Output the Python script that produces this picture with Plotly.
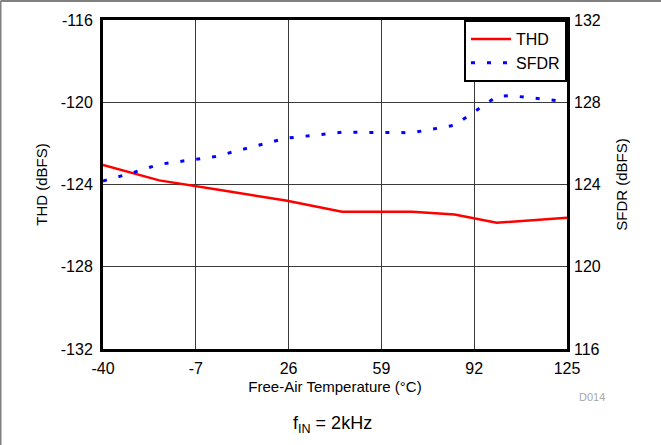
import plotly.graph_objects as go

# Free-air temperature (°C)
thd_temp = [-40, -20, 0, 25, 45, 70, 85, 100, 125]
thd_db = [-123.05, -123.8, -124.23, -124.78, -125.33, -125.33, -125.46, -125.86, -125.62]

sfdr_temp = [-40, -30, -20, -10, 0, 10, 25, 45, 70, 85, 100, 105, 125]
sfdr_db = [124.17, 124.55, 124.98, 125.17, 125.36, 125.72, 126.25, 126.54, 126.52, 126.88, 128.28, 128.32, 128.03]

x_ticks = [-40, -7, 26, 59, 92, 125]
thd_ticks = [-132, -128, -124, -120, -116]
sfdr_ticks = [116, 120, 124, 128, 132]

FONT = "Liberation Sans, Arial, sans-serif"

fig = go.Figure()
fig.add_trace(go.Scatter(
    x=thd_temp, y=thd_db, name="THD", mode="lines",
    line=dict(color="#ff0000", width=2.5), yaxis="y",
))
fig.add_trace(go.Scatter(
    x=sfdr_temp, y=sfdr_db, name="SFDR", mode="lines",
    line=dict(color="#0000ff", width=3, dash="4, 12"), yaxis="y2",
))

grid = dict(showgrid=True, gridcolor="#3a3a3a", gridwidth=1, zeroline=False)
fig.update_layout(
    width=661, height=445,
    margin=dict(l=103, r=94, t=20, b=96),
    paper_bgcolor="white", plot_bgcolor="white",
    font=dict(family=FONT, size=16, color="black"),
    showlegend=True,
    legend=dict(
        x=1, y=1, xanchor="right", yanchor="top",
        bgcolor="white", bordercolor="black", borderwidth=2,
        font=dict(size=16), tracegroupgap=0, itemwidth=40,
    ),
    xaxis=dict(
        range=[-40, 125], tickvals=x_ticks, ticktext=[str(v) for v in x_ticks],
        showline=True, linecolor="black", linewidth=3, mirror=True,
        ticks="", ticklen=0, ticklabelstandoff=3,
        title=dict(text="Free-Air Temperature (°C)", font=dict(size=15), standoff=6),
        **grid,
    ),
    yaxis=dict(
        range=[-132, -116], tickvals=thd_ticks, ticktext=[str(v) for v in thd_ticks],
        showline=True, linecolor="black", linewidth=3, mirror=True,
        ticks="", ticklabelstandoff=4,
        title=dict(text="THD (dBFS)", font=dict(size=15), standoff=10),
        **grid,
    ),
    yaxis2=dict(
        range=[116, 132], tickvals=sfdr_ticks, ticktext=[str(v) for v in sfdr_ticks],
        overlaying="y", side="right", showgrid=False, zeroline=False,
        showline=False, ticks="", ticklabelstandoff=6,
        title=dict(text="SFDR (dBFS)", font=dict(size=15), standoff=16),
    ),
    annotations=[
        dict(text="f<sub>IN</sub> = 2kHz", xref="paper", yref="paper",
             x=0.495, y=-0.228, xanchor="center", yanchor="middle",
             showarrow=False, font=dict(size=18, family=FONT)),
        dict(text="D014", xref="paper", yref="paper",
             x=1.022, y=-0.146, xanchor="left", yanchor="middle",
             showarrow=False, font=dict(size=11, color="#a8a8a8", family=FONT)),
    ],
    shapes=[
        dict(type="line", xref="paper", yref="paper",
             x0=-0.2209, x1=1.21, y0=1.058, y1=1.058,
             line=dict(color="#808080", width=2)),
        dict(type="line", xref="paper", yref="paper",
             x0=-0.2209, x1=-0.2209, y0=-0.3, y1=1.058,
             line=dict(color="#808080", width=2)),
    ],
)

fig.write_html("out.html")
